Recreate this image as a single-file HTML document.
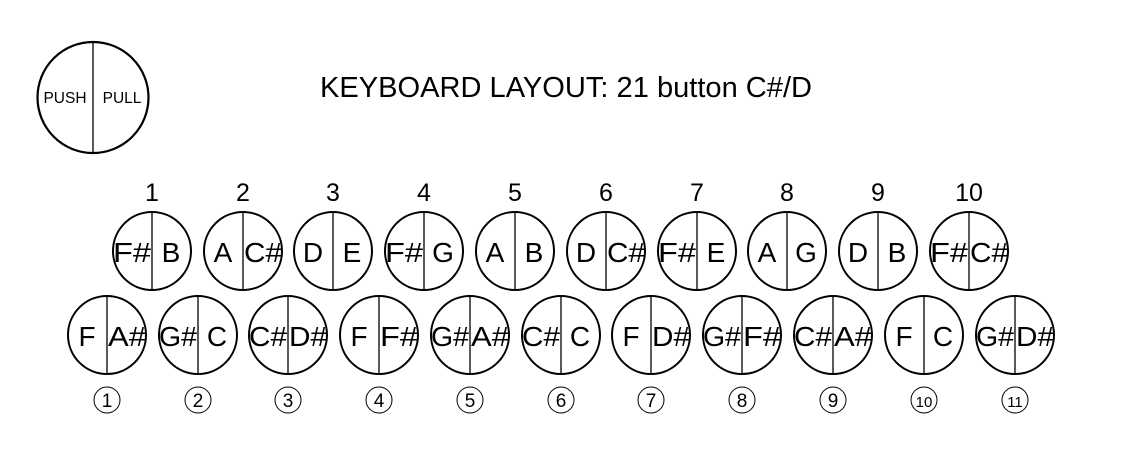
<!DOCTYPE html>
<html><head><meta charset="utf-8"><style>
html,body{margin:0;padding:0;background:#fff;width:1122px;height:471px;overflow:hidden}
svg text{font-family:"Liberation Sans",Arial,sans-serif;fill:#000}
</style></head><body>
<svg width="1122" height="471" viewBox="0 0 1122 471" xmlns="http://www.w3.org/2000/svg">
<circle cx="93" cy="97.5" r="55.5" fill="none" stroke="#000" stroke-width="2.2"/>
<line x1="93" y1="42" x2="93" y2="153" stroke="#000" stroke-width="1.3"/>
<text x="65" y="103" font-size="15.5" text-anchor="middle">PUSH</text>
<text x="122" y="103" font-size="15.5" text-anchor="middle">PULL</text>
<text x="320" y="97" font-size="29" textLength="492" lengthAdjust="spacingAndGlyphs">KEYBOARD LAYOUT: 21 button C#/D</text>
<g id="g"></g>
</svg>
<script>
(function(){
var topX=[152,243,333,424,515,606,697,787,878,969],botX=[107,198,288,379,470,561,651,742,833,924,1015];
var tl=[["F#","B"],["A","C#"],["D","E"],["F#","G"],["A","B"],["D","C#"],["F#","E"],["A","G"],["D","B"],["F#","C#"]];
var bl=[["F","A#"],["G#","C"],["C#","D#"],["F","F#"],["G#","A#"],["C#","C"],["F","D#"],["G#","F#"],["C#","A#"],["F","C"],["G#","D#"]];
var s="";
function btn(cx,cy,l){
 s+='<circle cx="'+cx+'" cy="'+cy+'" r="39" fill="none" stroke="#000" stroke-width="2"/>';
 s+='<line x1="'+cx+'" y1="'+(cy-39)+'" x2="'+cx+'" y2="'+(cy+39)+'" stroke="#000" stroke-width="1.3"/>';
 var b=cy+11;
 if(l[0].length==2) s+='<text x="'+(cx-1)+'" y="'+b+'" font-size="28" text-anchor="end" textLength="38" lengthAdjust="spacingAndGlyphs">'+l[0]+'</text>';
 else s+='<text x="'+(cx-20)+'" y="'+b+'" font-size="28" text-anchor="middle">'+l[0]+'</text>';
 if(l[1].length==2) s+='<text x="'+(cx+1)+'" y="'+b+'" font-size="28" textLength="38" lengthAdjust="spacingAndGlyphs">'+l[1]+'</text>';
 else s+='<text x="'+(cx+19)+'" y="'+b+'" font-size="28" text-anchor="middle">'+l[1]+'</text>';
}
topX.forEach(function(x,i){btn(x,251,tl[i]);s+='<text x="'+x+'" y="201" font-size="25" text-anchor="middle">'+(i+1)+'</text>';});
botX.forEach(function(x,i){btn(x,335,bl[i]);
 s+='<circle cx="'+x+'" cy="400" r="13" fill="none" stroke="#000" stroke-width="1"/>';
 s+='<text x="'+x+'" y="407" font-size="'+(i>=9?15:19)+'" text-anchor="middle">'+(i+1)+'</text>';});
document.getElementById('g').innerHTML=s;
})();
</script>
</body></html>
